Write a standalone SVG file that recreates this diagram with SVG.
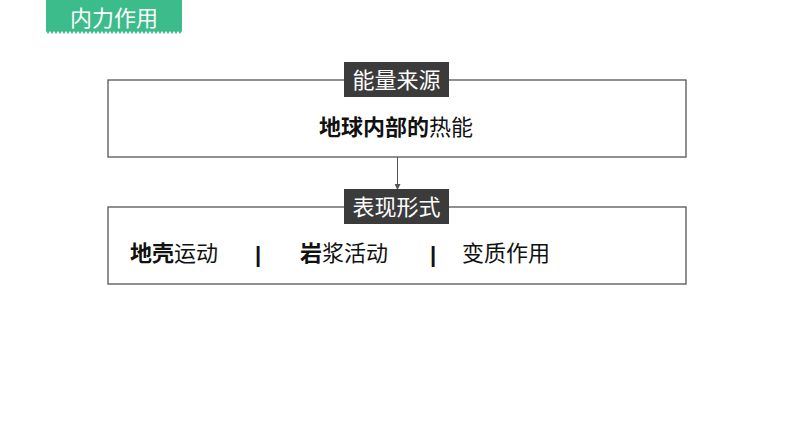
<svg xmlns="http://www.w3.org/2000/svg" width="794" height="447" viewBox="0 0 794 447">
<style>
.box{fill:#fff;stroke:#555;stroke-width:1.3}
.lbl{fill:#3b3b3b}
.lt{font-family:"Liberation Sans","Noto Sans CJK SC",sans-serif;font-size:22px;fill:#fff;text-anchor:middle}
.t{font-family:"Liberation Sans","Noto Sans CJK SC",sans-serif;font-size:22px;fill:#111}
.b{font-weight:bold}
.conn{stroke:#555;stroke-width:1;fill:none}
</style>
<defs>
<marker id="ah" markerWidth="6" markerHeight="6" refX="5" refY="3" orient="auto" markerUnits="userSpaceOnUse">
<path d="M0,0 L6,3 L0,6 z" fill="#555"/>
</marker>
<pattern id="zz" patternUnits="userSpaceOnUse" x="46" y="31" width="4" height="3">
<path d="M0,0 L4,0 L2,3 z" fill="#3cbb8b"/>
</pattern>
</defs>
<g id="header">
<rect x="46" y="0" width="136" height="31" fill="#3cbb8b"/>
<rect x="46" y="31" width="136" height="3" fill="url(#zz)"/>
<text x="114" y="26" class="lt" style="font-size:22px">内力作用</text>
</g>
<g id="connectors">
<line x1="397.5" y1="157" x2="397.5" y2="189" class="conn" marker-end="url(#ah)"/>
</g>
<g id="source">
<rect x="108" y="80" width="578" height="77" class="box"/>
<rect x="344" y="62" width="105" height="35" class="lbl"/>
<text x="396.5" y="88" class="lt">能量来源</text>
<text x="396" y="135" class="t" text-anchor="middle"><tspan class="b">地球内部的</tspan>热能</text>
</g>
<g id="forms">
<rect x="108" y="207" width="578" height="77" class="box"/>
<rect x="344" y="189" width="105" height="35" class="lbl"/>
<text x="396.5" y="215" class="lt">表现形式</text>
<text x="130" y="261" class="t"><tspan class="b">地壳</tspan>运动</text>
<text x="258" y="262" class="t b" text-anchor="middle">|</text>
<text x="300" y="261" class="t"><tspan class="b">岩</tspan>浆活动</text>
<text x="433" y="262" class="t b" text-anchor="middle">|</text>
<text x="462" y="261" class="t">变质作用</text>
</g>
</svg>
